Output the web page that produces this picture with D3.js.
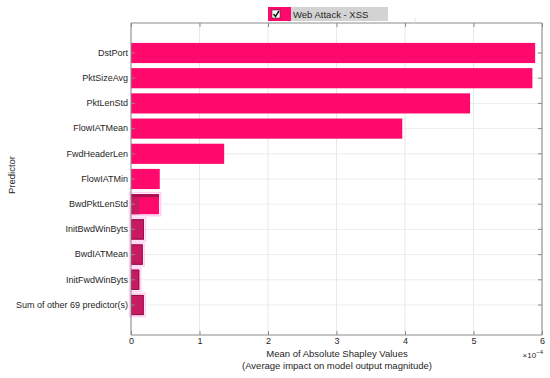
<!DOCTYPE html>
<html>
<head>
<meta charset="utf-8">
<script src="https://cdn.jsdelivr.net/npm/d3@7"></script>
<style>
  body { margin: 0; background: #fff; }
  text { font-family: "Liberation Sans", Arial, sans-serif; fill: #262626; }
</style>
</head>
<body>
<script>
// predictors, top to bottom
var predictors = ["DstPort", "PktSizeAvg", "PktLenStd", "FlowIATMean", "FwdHeaderLen",
  "FlowIATMin", "BwdPktLenStd", "InitBwdWinByts", "BwdIATMean", "InitFwdWinByts",
  "Sum of other 69 predictor(s)"];
// mean |shap| in units of 1e-4
var shapValues = [5.90, 5.86, 4.95, 3.96, 1.36, 0.42, 0.41, 0.19, 0.17, 0.12, 0.185];
// darker overlay part seen on the small bars (same units)
var overlayValues = [0, 0, 0, 0, 0, 0, 0.19, 0.19, 0.17, 0.12, 0.185];
var xTicks = [0, 1, 2, 3, 4, 5, 6];
var legendLabel = "Web Attack - XSS";

var margin = {top: 23, right: 8, bottom: 43, left: 131},
    width = 550 - margin.left - margin.right,
    height = 378 - margin.top - margin.bottom;

var svg = d3.select("body").append("svg")
    .attr("width", 550)
    .attr("height", 378);
var g = svg.append("g")
    .attr("transform", "translate(" + margin.left + "," + margin.top + ")");

var x = d3.scaleLinear().domain([0, 6]).range([0, width]);
var y = d3.scaleBand().domain(predictors).range([0, height])
    .paddingInner(0.2).paddingOuter(0.79);

// grid
g.selectAll(".vgrid").data(xTicks).enter().append("line")
    .attr("x1", d => x(d)).attr("x2", d => x(d))
    .attr("y1", 0).attr("y2", height)
    .attr("stroke", "#e8e8e8");
g.selectAll(".hgrid").data(predictors).enter().append("line")
    .attr("x1", 0).attr("x2", width)
    .attr("y1", d => y(d) + y.bandwidth() / 2).attr("y2", d => y(d) + y.bandwidth() / 2)
    .attr("stroke", "#ececec");

// bars
g.selectAll(".bar").data(predictors).enter().append("rect")
    .attr("x", 0)
    .attr("y", d => y(d))
    .attr("width", (d, i) => x(shapValues[i]))
    .attr("height", y.bandwidth())
    .attr("fill", "#ff0a6c");

// dark overlay with a light pink halo on the small bars
var ov = predictors.map((p, i) => ({p: p, v: overlayValues[i]})).filter(d => d.v > 0);
g.selectAll(".halo").data(ov).enter().append("rect")
    .attr("x", -1.5)
    .attr("y", d => y(d.p) - 1.5)
    .attr("width", d => (d.p === "BwdPktLenStd" ? x(shapValues[6]) : x(d.v)) + 3)
    .attr("height", y.bandwidth() + 3)
    .attr("fill", "none")
    .attr("stroke", "#ffd0f2")
    .attr("stroke-width", 1.5);
g.selectAll(".ovl").data(ov).enter().append("rect")
    .attr("x", 0)
    .attr("y", d => y(d.p))
    .attr("width", (d, i) => d.p === "BwdPktLenStd" ? x(0.12) : x(d.v))
    .attr("height", y.bandwidth())
    .attr("fill", "#c81a62");
// top dark strip on BwdPktLenStd
g.append("rect")
    .attr("x", 0).attr("y", y("BwdPktLenStd"))
    .attr("width", x(shapValues[6])).attr("height", 3)
    .attr("fill", "#a8124f");
g.selectAll(".ovlEdge").data(ov.filter(d => d.p !== "BwdPktLenStd")).enter().append("rect")
    .attr("x", 0.5).attr("y", d => y(d.p) + 0.5)
    .attr("width", d => x(d.v) - 1).attr("height", y.bandwidth() - 1)
    .attr("fill", "none").attr("stroke", "#93124c").attr("stroke-width", 1);

// axes (box with inward ticks)
var axColor = "#8a8a8a";
var bottomAxis = g.append("g")
    .attr("transform", "translate(0," + height + ")")
    .call(d3.axisBottom(x).tickValues(xTicks).tickSize(-4).tickPadding(3).tickFormat(d3.format("d")));
var topAxis = g.append("g")
    .call(d3.axisTop(x).tickValues(xTicks).tickSize(-4).tickFormat(""));
var leftAxis = g.append("g")
    .call(d3.axisLeft(y).tickSize(-4).tickPadding(3));
var rightAxis = g.append("g")
    .attr("transform", "translate(" + width + ",0)")
    .call(d3.axisRight(y).tickSize(-4).tickFormat(""));
[bottomAxis, topAxis, leftAxis, rightAxis].forEach(function(a) {
  a.select(".domain").attr("stroke", axColor);
  a.selectAll(".tick line").attr("stroke", axColor);
  a.selectAll("text").style("font-size", "9px")
    .style("font-family", "'Liberation Sans', Arial, sans-serif").attr("fill", "#262626");
});
leftAxis.selectAll(".domain").attr("d", "M0,0V" + height);
rightAxis.selectAll(".domain").attr("d", "M0,0V" + height);
bottomAxis.selectAll(".domain").attr("d", "M0,0H" + width);
topAxis.selectAll(".domain").attr("d", "M0,0H" + width);

// axis labels
svg.append("text")
    .attr("transform", "rotate(-90)")
    .attr("x", -(margin.top + height / 2) + 4)
    .attr("y", 15)
    .style("text-anchor", "middle")
    .style("font-size", "9.5px")
    .text("Predictor");
svg.append("text")
    .attr("x", 337)
    .attr("y", 357)
    .style("text-anchor", "middle")
    .style("font-size", "9.5px")
    .text("Mean of Absolute Shapley Values");
svg.append("text")
    .attr("x", 337)
    .attr("y", 369)
    .style("text-anchor", "middle")
    .style("font-size", "9.5px")
    .text("(Average impact on model output magnitude)");
var ex = svg.append("text")
    .attr("x", 543)
    .attr("y", 358)
    .style("text-anchor", "end")
    .style("font-size", "8px");
ex.append("tspan").text("\u00d710");
ex.append("tspan").attr("dy", -4).style("font-size", "6px").text("\u22124");

// legend
var lg = svg.append("g").attr("transform", "translate(268,7)");
lg.append("rect").attr("width", 120).attr("height", 14).attr("fill", "#d3d3d3");
lg.append("rect").attr("width", 23).attr("height", 14).attr("fill", "#ff0a6c");
lg.append("rect").attr("x", 4).attr("y", 3).attr("width", 8).attr("height", 8)
    .attr("fill", "#fff").attr("stroke", "#333").attr("stroke-width", 0.6);
lg.append("path").attr("d", "M5.5,7 L7.5,9.5 L11,4")
    .attr("fill", "none").attr("stroke", "#111").attr("stroke-width", 1.4);
lg.append("text").attr("x", 25).attr("y", 10.5)
    .style("font-size", "9.5px").attr("fill", "#444").text(legendLabel);
svg.append("line").attr("x1", 415).attr("x2", 415).attr("y1", 18).attr("y2", 23)
    .attr("stroke", "#e0e0e0");
</script>
</body>
</html>
